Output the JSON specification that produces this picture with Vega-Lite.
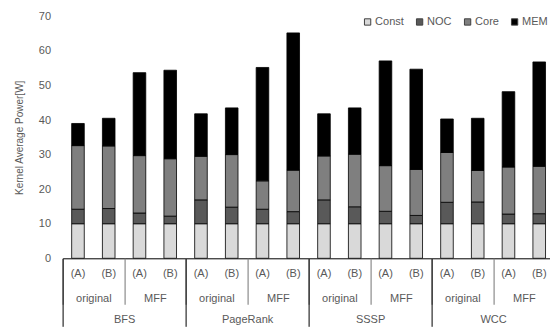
{
  "$schema": "https://vega.github.io/schema/vega-lite/v6.json",
  "autosize": "none",
  "padding": {"left": 62.6, "top": 16.3, "right": 0, "bottom": 68.7},
  "width": 487.4,
  "height": 242,
  "config": {"font": "Liberation Sans", "view": {"stroke": null}},
  "data": {"values": [
    {"bar": "BFS/original/A", "grp": "BFS/original", "app": "BFS", "Const": 10, "NOC": 4.2, "Core": 18.4, "MEM": 6.4},
    {"bar": "BFS/original/B", "grp": "BFS/original", "app": "BFS", "Const": 10, "NOC": 4.4, "Core": 18.1, "MEM": 8.0},
    {"bar": "BFS/MFF/A", "grp": "BFS/MFF", "app": "BFS", "Const": 10, "NOC": 3.1, "Core": 16.6, "MEM": 24.0},
    {"bar": "BFS/MFF/B", "grp": "BFS/MFF", "app": "BFS", "Const": 10, "NOC": 2.2, "Core": 16.6, "MEM": 25.6},
    {"bar": "PageRank/original/A", "grp": "PageRank/original", "app": "PageRank", "Const": 10, "NOC": 6.9, "Core": 12.6, "MEM": 12.3},
    {"bar": "PageRank/original/B", "grp": "PageRank/original", "app": "PageRank", "Const": 10, "NOC": 4.8, "Core": 15.2, "MEM": 13.5},
    {"bar": "PageRank/MFF/A", "grp": "PageRank/MFF", "app": "PageRank", "Const": 10, "NOC": 4.2, "Core": 8.2, "MEM": 32.8},
    {"bar": "PageRank/MFF/B", "grp": "PageRank/MFF", "app": "PageRank", "Const": 10, "NOC": 3.5, "Core": 12.0, "MEM": 39.7},
    {"bar": "SSSP/original/A", "grp": "SSSP/original", "app": "SSSP", "Const": 10, "NOC": 6.9, "Core": 12.7, "MEM": 12.2},
    {"bar": "SSSP/original/B", "grp": "SSSP/original", "app": "SSSP", "Const": 10, "NOC": 4.9, "Core": 15.2, "MEM": 13.4},
    {"bar": "SSSP/MFF/A", "grp": "SSSP/MFF", "app": "SSSP", "Const": 10, "NOC": 3.6, "Core": 13.2, "MEM": 30.3},
    {"bar": "SSSP/MFF/B", "grp": "SSSP/MFF", "app": "SSSP", "Const": 10, "NOC": 2.4, "Core": 13.3, "MEM": 29.0},
    {"bar": "WCC/original/A", "grp": "WCC/original", "app": "WCC", "Const": 10, "NOC": 6.2, "Core": 14.4, "MEM": 9.7},
    {"bar": "WCC/original/B", "grp": "WCC/original", "app": "WCC", "Const": 10, "NOC": 6.3, "Core": 9.1, "MEM": 15.1},
    {"bar": "WCC/MFF/A", "grp": "WCC/MFF", "app": "WCC", "Const": 10, "NOC": 2.8, "Core": 13.6, "MEM": 21.8},
    {"bar": "WCC/MFF/B", "grp": "WCC/MFF", "app": "WCC", "Const": 10, "NOC": 2.9, "Core": 13.7, "MEM": 30.2}
  ]},
  "layer": [
    {
      "transform": [
        {"fold": ["Const", "NOC", "Core", "MEM"], "as": ["component", "power"]},
        {"window": [{"op": "row_number", "as": "k"}], "groupby": ["bar"]}
      ],
      "mark": {"type": "bar", "width": {"band": 0.41}, "stroke": "#000000", "strokeWidth": 0.8},
      "encoding": {
        "x": {
          "field": "bar", "type": "nominal", "sort": null,
          "scale": {"range": [0, 492], "paddingInner": 0, "paddingOuter": 0},
          "axis": {
            "orient": "bottom", "title": null, "domain": true, "domainColor": "#000000", "domainWidth": 1,
            "ticks": false, "tickSize": 0, "labelAngle": 0, "labelBaseline": "middle", "labelPadding": 15,
            "labelFontSize": 11, "labelColor": "#595959", "labelOverlap": false,
            "labelExpr": "'(' + slice(datum.label, -1) + ')'"
          }
        },
        "y": {
          "field": "power", "type": "quantitative", "stack": "zero",
          "scale": {"domain": [0, 70]},
          "axis": {
            "values": [0, 10, 20, 30, 40, 50, 60, 70], "grid": false, "domain": false, "ticks": false, "tickSize": 0,
            "labelPadding": 12, "labelFontSize": 11, "labelColor": "#595959",
            "title": "Kernel Average Power[W]", "titleFontSize": 10, "titleFontWeight": "normal",
            "titleColor": "#595959", "titlePadding": 14
          }
        },
        "order": {"field": "k", "type": "quantitative", "sort": "ascending"},
        "color": {
          "field": "component", "type": "nominal",
          "scale": {"domain": ["Const", "NOC", "Core", "MEM"], "range": ["#d9d9d9", "#595959", "#7f7f7f", "#000000"]},
          "legend": {
            "orient": "none", "legendX": 299.5, "legendY": 0, "direction": "horizontal", "title": null,
            "symbolType": "square", "symbolSize": 40, "symbolStrokeColor": "#404040", "symbolStrokeWidth": 1,
            "labelFontSize": 11, "labelColor": "#595959", "labelOffset": 2, "columnPadding": 10, "padding": 0
          }
        }
      }
    },
    {
      "mark": {"type": "point", "opacity": 0},
      "encoding": {
        "x": {
          "field": "grp", "type": "nominal", "sort": null,
          "scale": {"range": [0, 492], "paddingInner": 0, "paddingOuter": 0},
          "axis": {
            "orient": "bottom", "title": null, "domain": false, "ticks": true, "tickBand": "extent",
            "tickSize": 46, "tickColor": "#8c8c8c", "tickWidth": 1.2, "labelAngle": 0, "labelBaseline": "middle",
            "labelPadding": -6, "labelFontSize": 11, "labelColor": "#595959", "labelOverlap": false,
            "labelExpr": "split(datum.label, '/')[1]"
          }
        }
      }
    },
    {
      "mark": {"type": "point", "opacity": 0},
      "encoding": {
        "x": {
          "field": "app", "type": "nominal", "sort": null,
          "scale": {"range": [0, 492], "paddingInner": 0, "paddingOuter": 0},
          "axis": {
            "orient": "bottom", "title": null, "domain": false, "ticks": true, "tickBand": "extent",
            "tickSize": 68, "tickColor": "#000000", "tickWidth": 1, "labelAngle": 0, "labelBaseline": "middle",
            "labelPadding": -7, "labelFontSize": 11, "labelColor": "#595959", "labelOverlap": false
          }
        }
      }
    }
  ],
  "resolve": {"scale": {"x": "independent"}, "axis": {"x": "independent"}}
}
